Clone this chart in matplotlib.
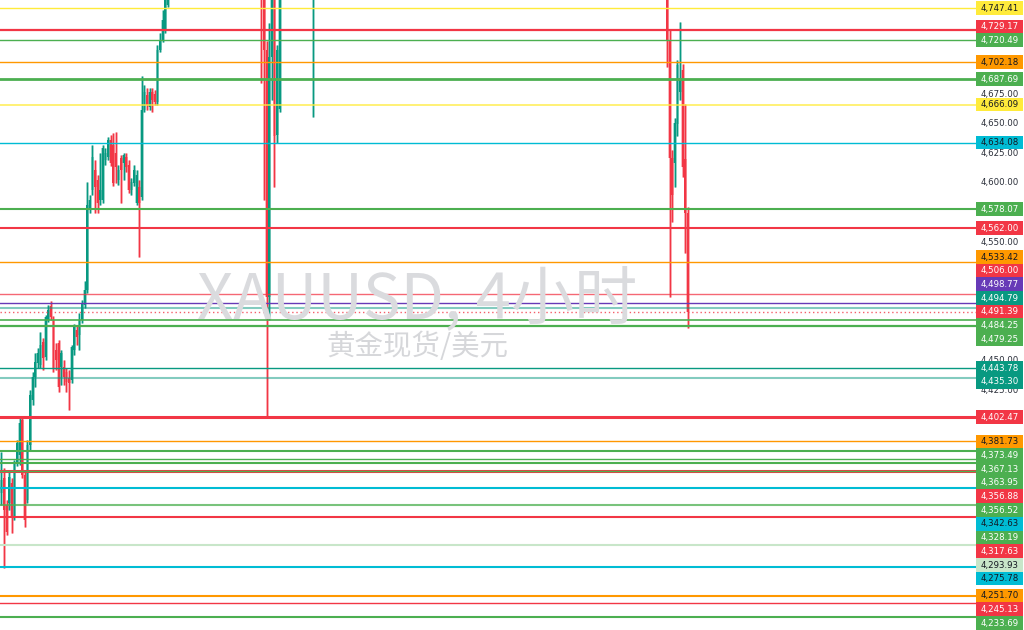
import numpy as np
import matplotlib
matplotlib.use('Agg')
import matplotlib.pyplot as plt
from matplotlib.patches import Rectangle

plt.rcParams['font.family'] = ['Noto Sans CJK SC', 'DejaVu Sans']

# ---------------- data ----------------
# 4-hour bar index of every bar that reaches into the visible price window
# (bars lying entirely above the window are not listed)
bar_index = list(range(0, 65)) + list(range(100, 108)) + [120] + list(range(256, 265))

opens = [4338.3, 4350.9, 4328.1, 4329.8, 4346.7, 4318.0, 4363.5, 4370.0, 4399.8, 4353.4,
         4332.3, 4378.8, 4416.8, 4436.2, 4448.0, 4446.3, 4465.7, 4453.0, 4484.3, 4496.1,
         4484.3, 4459.0, 4464.9, 4444.6, 4444.6, 4440.4, 4435.3, 4433.6, 4459.0, 4475.9,
         4471.6, 4484.3, 4497.0, 4509.6, 4577.1, 4594.0, 4610.9, 4602.5, 4585.6, 4585.6,
         4619.4, 4621.9, 4636.2, 4632.0, 4625.3, 4602.5, 4621.0, 4616.8, 4621.9, 4615.1,
         4594.0, 4599.9, 4583.0, 4596.6, 4588.1, 4661.5, 4674.2, 4664.1, 4676.8, 4675.1,
         4668.3, 4712.2, 4720.7, 4729.1, 4750.2,
         4805.0, 4772.0, 4712.2, 4503.7, 4706.3, 4760.0, 4640.5, 4662.0,
         4770.0,
         4790.0, 4720.7, 4621.0, 4616.8, 4650.0, 4676.8, 4695.3, 4620.0, 4574.6]
highs = [4372.8, 4359.3, 4332.3, 4357.7, 4350.9, 4366.1, 4383.0, 4401.5, 4403.2, 4357.7,
         4383.0, 4425.2, 4440.4, 4456.4, 4460.6, 4474.2, 4469.1, 4488.5, 4497.0, 4500.3,
         4487.7, 4464.9, 4467.4, 4459.0, 4450.5, 4443.8, 4442.1, 4463.2, 4480.9, 4479.2,
         4490.2, 4501.2, 4517.2, 4600.8, 4589.8, 4632.0, 4619.4, 4606.7, 4625.3, 4632.0,
         4629.5, 4638.8, 4640.5, 4642.2, 4643.0, 4615.1, 4623.6, 4625.3, 4625.3, 4619.4,
         4604.2, 4615.1, 4610.9, 4602.5, 4690.3, 4682.7, 4680.1, 4680.1, 4680.1, 4678.4,
         4716.4, 4726.6, 4746.0, 4771.3, 4788.2,
         4820.0, 4785.0, 4720.0, 4735.0, 4790.0, 4770.0, 4716.0, 4795.0,
         4815.0,
         4800.0, 4730.0, 4628.0, 4655.0, 4704.0, 4735.8, 4700.0, 4667.0, 4580.0]
lows = [4328.1, 4274.9, 4302.8, 4323.9, 4304.5, 4315.4, 4361.0, 4361.9, 4350.9, 4309.5,
        4329.8, 4374.5, 4412.5, 4427.7, 4443.8, 4443.8, 4442.1, 4450.5, 4482.6, 4484.3,
        4440.4, 4442.1, 4423.5, 4429.4, 4429.4, 4423.5, 4408.3, 4431.1, 4454.7, 4463.2,
        4459.0, 4481.7, 4494.4, 4507.1, 4574.6, 4589.8, 4574.6, 4574.6, 4581.4, 4583.0,
        4615.1, 4619.4, 4614.3, 4597.4, 4599.9, 4598.3, 4583.0, 4602.5, 4609.2, 4591.5,
        4589.8, 4597.4, 4581.4, 4537.5, 4585.6, 4659.9, 4661.5, 4661.5, 4659.9, 4665.8,
        4665.8, 4710.5, 4719.0, 4726.6, 4748.5,
        4684.4, 4585.6, 4402.47, 4484.3, 4670.0, 4596.6, 4633.7, 4659.9,
        4655.6,
        4697.9, 4503.7, 4567.0, 4596.6, 4640.0, 4670.0, 4605.0, 4540.8, 4477.5]
closes = [4349.2, 4323.9, 4305.3, 4351.8, 4318.0, 4363.5, 4380.4, 4397.3, 4353.4, 4315.4,
          4378.8, 4421.0, 4436.2, 4448.8, 4456.4, 4463.2, 4452.2, 4486.8, 4492.7, 4486.8,
          4443.8, 4450.5, 4427.7, 4456.4, 4436.2, 4432.0, 4431.1, 4461.5, 4478.4, 4469.9,
          4484.3, 4498.6, 4509.6, 4581.4, 4585.6, 4621.9, 4596.6, 4583.0, 4594.0, 4629.5,
          4625.3, 4636.2, 4616.8, 4599.9, 4613.4, 4610.9, 4610.9, 4623.6, 4613.4, 4594.0,
          4600.8, 4610.9, 4606.7, 4583.0, 4661.5, 4676.8, 4665.8, 4676.8, 4670.0, 4668.3,
          4712.2, 4720.7, 4737.5, 4758.6, 4779.7,
          4772.0, 4712.2, 4503.7, 4706.3, 4760.0, 4640.0, 4712.0, 4780.0,
          4800.0,
          4720.7, 4621.0, 4590.0, 4650.6, 4699.5, 4688.6, 4613.4, 4574.6, 4491.39]

# horizontal price levels (top to bottom)
level_prices = [4747.41, 4729.17, 4720.49, 4702.18, 4687.69, 4666.09, 4634.08, 4578.07,
                4562.00, 4533.42, 4506.00, 4498.77, 4494.79, 4491.39, 4484.25, 4479.25,
                4443.78, 4435.30, 4402.47, 4381.73, 4373.49, 4367.13, 4363.95, 4356.88,
                4356.52, 4342.63, 4328.19, 4317.63, 4293.93, 4275.78, 4251.70, 4245.13,
                4233.69]

price_window = (4222.6, 4754.4)
axis_tick_step = 25

symbol_title = 'XAUUSD, 4小时'
symbol_desc = '黄金现货/美元'

# ---------------- styles ----------------
UP, DOWN = '#089981', '#f23645'
Y, R, G, O, C, P, T, LG = '#ffeb3b', '#f23645', '#4caf50', '#ff9800', '#00bcd4', '#673ab7', '#089981', '#c8e6c9'
lvl_color = [Y, R, G, O, G, Y, C, G, R, O, R, P, T, R, G, G, T, T, R, O, G, G, G, R, G, C, G, R, LG, C, O, R, G]
lvl_width = [1.0, 1.6, 1.0, 1.0, 2.0, 1.4, 1.0, 1.5, 1.5, 1.0, 1.0, 1.0, 1.5, 1.0, 1.2, 1.6, 1.0,
             1.5, 2.2, 1.0, 1.5, 1.0, 1.5, 2.2, 1.0, 1.5, 1.5, 1.5, 1.5, 1.5, 1.5, 1.0, 1.5]
lvl_alpha = [1, 1, 1, 1, 1, 0.7, 1, 1, 1, 1, 0.75, 1, 0.5, 0.8, 1, 1, 1, 0.5, 1, 1, 1, 1, 1, 1,
             1, 1, 0.75, 1, 1, 1, 1, 1, 1]
dark_text = {Y, O, C, LG}

W, H = 1024, 630
PLOT_W = 976
SPACING = 2.6  # px per bar

fig = plt.figure(figsize=(W / 100, H / 100), dpi=100)
fig.patch.set_facecolor('white')
ax = fig.add_axes([0, 0, PLOT_W / W, 1])
ax.set_xlim(-1.5 / SPACING, (PLOT_W - 1.5) / SPACING)
ax.set_ylim(*price_window)
ax.axis('off')

# watermark
fig.text(417 / W, 1 - 318 / H, symbol_title, ha='center', va='baseline',
         fontsize=45.5, color='#dadbde', zorder=0)
fig.text(417 / W, 1 - 347 / H, symbol_desc, ha='center', va='center',
         fontsize=20.5, color='#d6d7da', zorder=0)

# candles (soft halo underneath, like the anti-aliased screenshot)
bi = np.array(bar_index, dtype=float)
o = np.array(opens); h = np.array(highs); l = np.array(lows); c = np.array(closes)
cols = np.where(c >= o, UP, DOWN)
body = np.maximum(np.abs(c - o), 0.6)
bottom = np.minimum(o, c)
ax.vlines(bi, l, h, colors=cols, linewidth=2.0, alpha=0.3, zorder=2)
ax.bar(bi, body, bottom=bottom, width=1.15, color=cols, alpha=0.35, linewidth=0, zorder=2)
ax.vlines(bi, l, h, colors=cols, linewidth=1.0, zorder=3)
ax.bar(bi, body, bottom=bottom, width=0.75, color=cols, linewidth=0, zorder=4)

# horizontal levels (the last-price level is dotted)
last_idx = int(np.argmin(np.abs(np.array(level_prices) - closes[-1])))
for i, p in enumerate(level_prices):
    ls = (0, (1, 2)) if i == last_idx else '-'
    ax.axhline(p, color=lvl_color[i], lw=lvl_width[i], alpha=lvl_alpha[i], ls=ls, zorder=5)

# price scale
sax = fig.add_axes([PLOT_W / W, 0, (W - PLOT_W) / W, 1])
sax.set_xlim(0, W - PLOT_W)
sax.set_ylim(H, 0)
sax.axis('off')

def to_px(p):
    return H - ax.transData.transform((0, p))[1]

# label placement: last-price label stays put, others are pushed away from it
LH = 13.7
n = len(level_prices)
targets = [to_px(p) for p in level_prices]
ly = list(targets)
for i in range(last_idx - 1, -1, -1):
    ly[i] = min(targets[i], ly[i + 1] - LH)
for i in range(last_idx + 1, n):
    ly[i] = max(targets[i], ly[i - 1] + LH)

tick_vals = np.arange(np.ceil(price_window[0] / axis_tick_step) * axis_tick_step,
                      price_window[1] + 1, axis_tick_step)
for t in tick_vals:
    y = to_px(t)
    if min(abs(y - v) for v in ly) < LH / 2:
        continue  # fully hidden behind a label
    sax.text(24, y, f'{t:,.2f}', ha='center', va='center', fontsize=6.2,
             family='DejaVu Sans', color='#2a2e39', zorder=1)

for i, p in enumerate(level_prices):
    y = ly[i]
    col = lvl_color[i]
    sax.add_patch(Rectangle((0, y - LH / 2), 47, LH, facecolor=col, edgecolor='none', zorder=2))
    sax.text(23.5, y + 0.3, f'{p:,.2f}', ha='center', va='center', fontsize=6.2,
             family='DejaVu Sans', color='#131722' if col in dark_text else 'white', zorder=3)

fig.savefig('out.png', dpi=100, facecolor='white')
